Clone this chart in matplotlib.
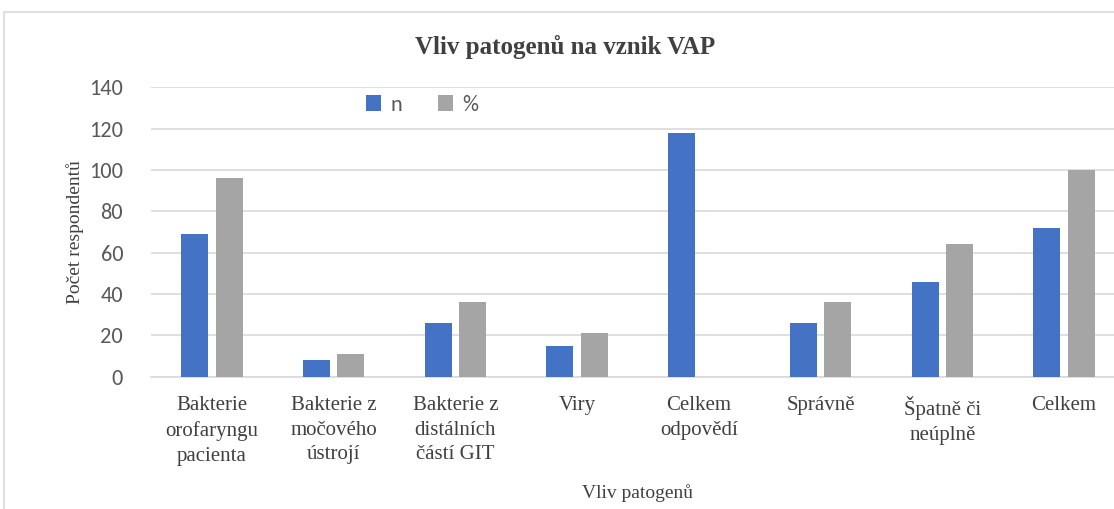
import numpy as np
import matplotlib
matplotlib.use('Agg')
import matplotlib.pyplot as plt
from matplotlib.patches import Rectangle

# data
categories = ["Bakterie\norofaryngu\npacienta", "Bakterie z\nmočového\nústrojí",
              "Bakterie z\ndistálních\nčástí GIT", "Viry", "Celkem\nodpovědí",
              "Správně", "Špatně či\nneúplně", "Celkem"]
n_values = [69, 8, 26, 15, 118, 26, 46, 72]
pct_values = [96, 11, 36, 21, 0, 36, 64, 100]
series_names = ["n", "%"]
yticks = [0, 20, 40, 60, 80, 100, 120, 140]

blue = "#4472C4"
gray = "#A5A5A5"
tick_gray = "#595959"
text_dark = "#404040"
serif = ["Liberation Serif", "DejaVu Serif"]
sans = ["Carlito", "Lato", "DejaVu Sans"]

fig = plt.figure(figsize=(11.14, 5.09), dpi=100)
ax = fig.add_axes([151 / 1114, 1 - 376.7 / 509, 974 / 1114, 289.4 / 509])

x = np.arange(len(categories))
w = 0.222
off = 0.141
ax.bar(x - off, n_values, w, color=blue, label=series_names[0], zorder=3)
ax.bar(x + off, pct_values, w, color=gray, label=series_names[1], zorder=3)

ax.set_xlim(-0.5, len(categories) - 0.5)
ax.set_ylim(0, 140)
ax.set_yticks(yticks)
ax.yaxis.grid(True, color="#d9d9d9", linewidth=1.2, zorder=0)
ax.set_axisbelow(True)
for s in ["top", "right", "left"]:
    ax.spines[s].set_visible(False)
ax.spines["bottom"].set_color("#d9d9d9")
ax.spines["bottom"].set_linewidth(1.2)
ax.tick_params(axis="both", length=0)
ax.tick_params(axis="y", labelsize=16, labelcolor=tick_gray, pad=20)
for lab in ax.get_yticklabels():
    lab.set_family(sans)

ax.set_xticks(x)
ax.set_xticklabels(categories, family=serif, fontsize=15, color=text_dark,
                   linespacing=1.4, va="top")
ax.tick_params(axis="x", pad=14)

ax.set_ylabel("Počet respondentů", family=serif, fontsize=14, color=text_dark, labelpad=4)
fig.text(638 / 1114, 1 - 493 / 509, "Vliv patogenů", family=serif, fontsize=14,
         color=text_dark, ha="center", va="center")
fig.text(565 / 1114, 1 - 47 / 509, "Vliv patogenů na vznik VAP", family=serif,
         fontsize=18, fontweight="bold", color=text_dark, ha="center", va="center")

fig.legend(loc="center", bbox_to_anchor=(422 / 1114, 1 - 105 / 509), ncol=2,
           frameon=False, prop={"family": sans, "size": 16}, labelcolor=tick_gray,
           handlelength=0.7, handleheight=0.7, handletextpad=0.4, columnspacing=1.6)

fig.add_artist(Rectangle((4 / 1114, -0.02), 1.1, 1 - 12 / 509 + 0.02,
                         transform=fig.transFigure, fill=False,
                         edgecolor="#d9d9d9", linewidth=1.2))

fig.savefig("out.png", dpi=100)
